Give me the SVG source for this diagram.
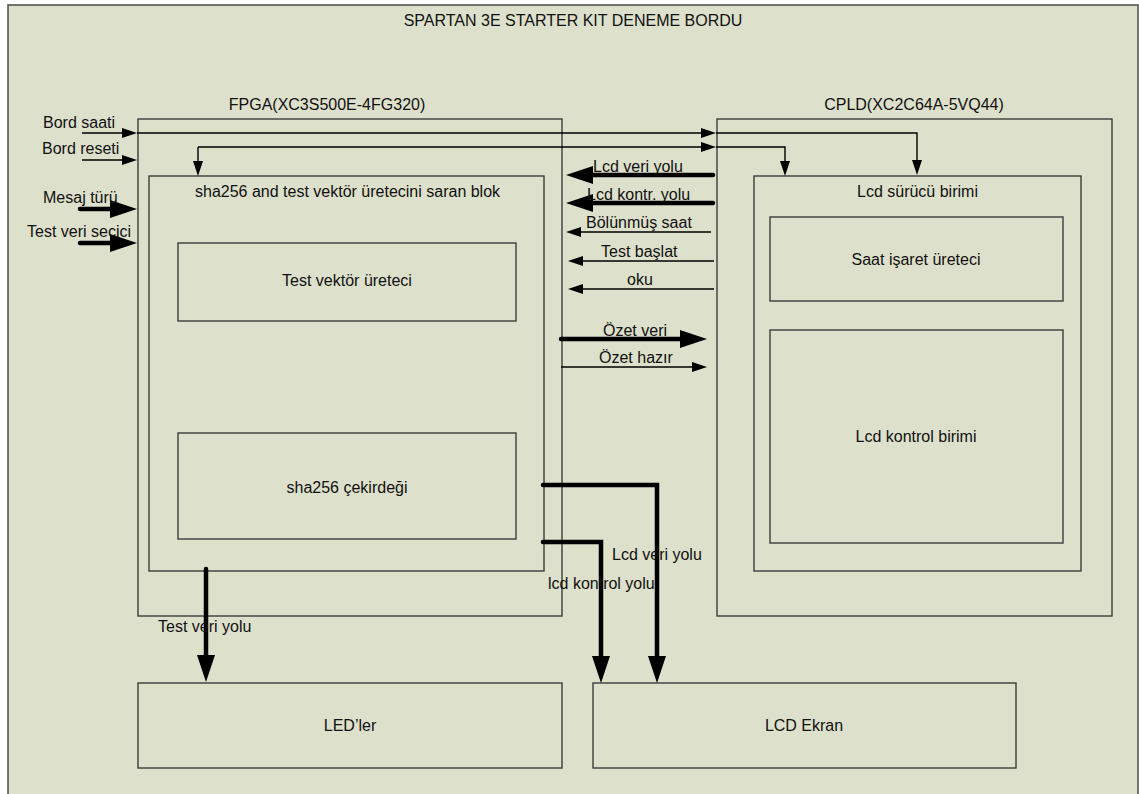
<svg xmlns="http://www.w3.org/2000/svg" width="1139" height="794" viewBox="0 0 1139 794">
<defs>
<style>
.box{fill:none;stroke:#3c3c3c;stroke-width:1.4}
.t{font-family:"Liberation Sans",Arial,sans-serif;font-size:16px;fill:#111}
.c{text-anchor:middle}
.thin{fill:none;stroke:#000;stroke-width:1.4}
.thick{fill:none;stroke:#000;stroke-width:4.5;stroke-linecap:round;stroke-linejoin:miter}
.ta{marker-end:url(#ah)}
.tk{marker-end:url(#ahk)}
</style>
<marker id="ah" viewBox="0 -5 15 10" markerWidth="15" markerHeight="10" refX="0" refY="0" orient="auto" markerUnits="userSpaceOnUse"><path d="M0,-5 L15,0 L0,5 z" fill="#000"/></marker>
<marker id="ahk" viewBox="0 -9 27 18" markerWidth="27" markerHeight="18" refX="0" refY="0" orient="auto" markerUnits="userSpaceOnUse"><path d="M0,-9 L27,0 L0,9 z" fill="#000"/></marker>
</defs>
<rect x="0" y="0" width="1139" height="794" fill="#fff"/>
<g id="board">
<rect x="8" y="5" width="1130" height="800" fill="#dde0cb" stroke="#555" stroke-width="1.6"/>
<text class="t c" x="573" y="26">SPARTAN 3E STARTER KIT DENEME BORDU</text>
</g>
<g id="fpga">
<rect class="box" x="138" y="119" width="424" height="497"/>
<text class="t c" x="327" y="110">FPGA(XC3S500E-4FG320)</text>
</g>
<g id="sha-wrapper">
<rect class="box" x="149" y="176" width="395" height="395"/>
<text class="t" x="195" y="197">sha256 and test vektör üretecini saran blok</text>
</g>
<g id="test-vector">
<rect class="box" x="178" y="243" width="338" height="78"/>
<text class="t c" x="347" y="286">Test vektör üreteci</text>
</g>
<g id="sha-core">
<rect class="box" x="178" y="433" width="338" height="106"/>
<text class="t c" x="347" y="493">sha256 çekirdeği</text>
</g>
<g id="cpld">
<rect class="box" x="717" y="119" width="395" height="497"/>
<text class="t c" x="914" y="110">CPLD(XC2C64A-5VQ44)</text>
</g>
<g id="lcd-driver">
<rect class="box" x="754" y="176" width="327" height="395"/>
<text class="t" x="857" y="197">Lcd sürücü birimi</text>
</g>
<g id="clock-gen">
<rect class="box" x="770" y="217" width="293" height="84"/>
<text class="t c" x="916" y="265">Saat işaret üreteci</text>
</g>
<g id="lcd-control">
<rect class="box" x="770" y="330" width="293" height="213"/>
<text class="t c" x="916" y="442">Lcd kontrol birimi</text>
</g>
<g id="leds">
<rect class="box" x="138" y="683" width="424" height="85"/>
<text class="t c" x="350" y="731">LED’ler</text>
</g>
<g id="lcd-screen">
<rect class="box" x="593" y="683" width="423" height="85"/>
<text class="t c" x="804" y="731">LCD Ekran</text>
</g>
<g id="connectors">
<path class="thin ta" d="M82,133 H122"/>
<path class="thin ta" d="M137,133 H701"/>
<path class="thin ta" d="M716,133 H917 V160"/>
<path class="thin ta" d="M82,160 H122"/>
<path class="thin ta" d="M198,147 H701"/>
<path class="thin ta" d="M198,147 V161"/>
<path class="thin ta" d="M716,147 H785 V161"/>
<path class="thick tk" d="M80,209 H110"/>
<path class="thick tk" d="M80,243 H110"/>
<path class="thick tk" d="M713,175 H593"/>
<path class="thick tk" d="M713,203 H593"/>
<path class="thin ta" d="M711,232 H581"/>
<path class="thin ta" d="M714,261 H583"/>
<path class="thin ta" d="M714,289 H583"/>
<path class="thick tk" d="M561,339 H680"/>
<path class="thin ta" d="M561,367 H692"/>
<path class="thick tk" d="M543,485 H657 V656"/>
<path class="thick tk" d="M543,542 H601 V656"/>
<path class="thick tk" d="M206,569 V655"/>
<text class="t" x="43" y="128">Bord saati</text>
<text class="t" x="42" y="154">Bord reseti</text>
<text class="t" x="43" y="203">Mesaj türü</text>
<text class="t" x="27" y="237">Test veri secici</text>
<text class="t" x="593" y="172">Lcd veri yolu</text>
<text class="t" x="587" y="200">Lcd kontr. yolu</text>
<text class="t" x="586" y="228">Bölünmüş saat</text>
<text class="t" x="601" y="257">Test başlat</text>
<text class="t" x="627" y="285">oku</text>
<text class="t" x="603" y="336">Özet veri</text>
<text class="t" x="599" y="363">Özet hazır</text>
<text class="t" x="612" y="560">Lcd veri yolu</text>
<text class="t" x="548" y="589">lcd kontrol yolu</text>
<text class="t" x="158" y="632">Test veri yolu</text>
</g>
</svg>
